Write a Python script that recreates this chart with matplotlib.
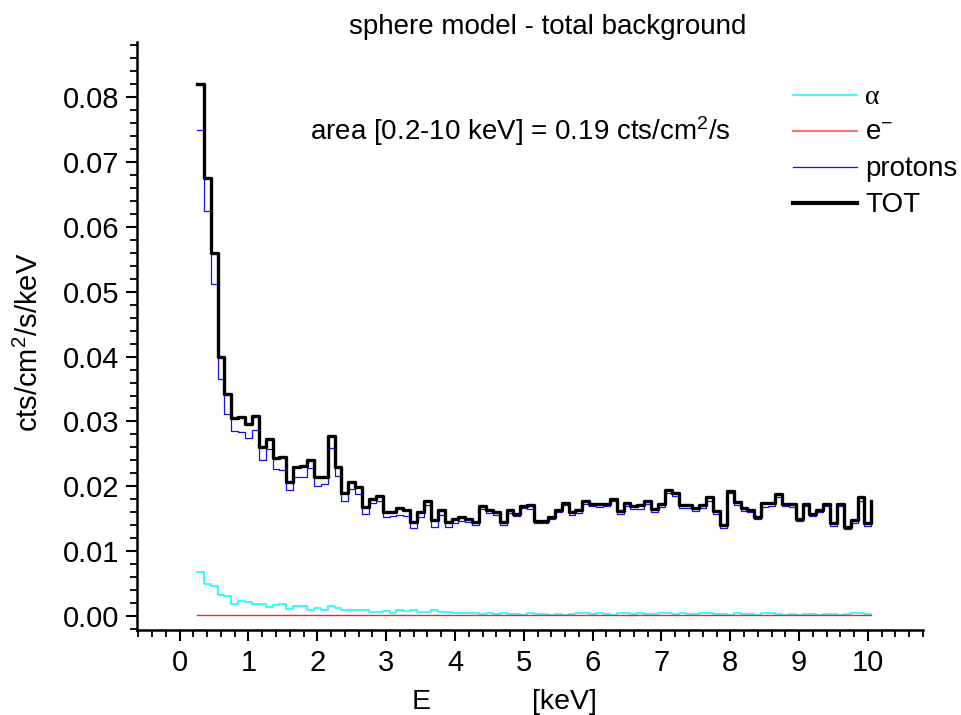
import numpy as np
import matplotlib
matplotlib.use('Agg')
import matplotlib.pyplot as plt
from matplotlib.ticker import MultipleLocator, FormatStrFormatter

# energy bins: 0.1 keV wide starting at 0.25 keV (last value closes the step)
e_start = 0.25
e_width = 0.1

tot = [0.0820, 0.0676, 0.0559, 0.0400, 0.0343, 0.0305, 0.0307, 0.0296, 0.0308, 0.0260,
       0.0273, 0.0244, 0.0245, 0.0206, 0.0230, 0.0232, 0.0240, 0.0214, 0.0214, 0.0278,
       0.0230, 0.0189, 0.0207, 0.0199, 0.0168, 0.0181, 0.0185, 0.0161, 0.0161, 0.0166,
       0.0164, 0.0145, 0.0160, 0.0178, 0.0148, 0.0163, 0.0145, 0.0149, 0.0153, 0.0150,
       0.0145, 0.0169, 0.0164, 0.0160, 0.0145, 0.0163, 0.0158, 0.0169, 0.0171, 0.0147,
       0.0147, 0.0153, 0.0164, 0.0174, 0.0160, 0.0164, 0.0177, 0.0173, 0.0173, 0.0173,
       0.0181, 0.0162, 0.0174, 0.0169, 0.0171, 0.0177, 0.0165, 0.0173, 0.0195, 0.0189,
       0.0171, 0.0171, 0.0166, 0.0171, 0.0183, 0.0162, 0.0140, 0.0193, 0.0176, 0.0166,
       0.0164, 0.0153, 0.0174, 0.0174, 0.0188, 0.0172, 0.0172, 0.0150, 0.0173, 0.0158,
       0.0164, 0.0173, 0.0143, 0.0172, 0.0138, 0.0148, 0.0183, 0.0143, 0.0177]

protons = [0.0750, 0.0625, 0.0512, 0.0365, 0.0311, 0.0285, 0.0283, 0.0274, 0.0287, 0.0240,
           0.0257, 0.0226, 0.0225, 0.0194, 0.0214, 0.0215, 0.0229, 0.0200, 0.0204, 0.0259,
           0.0216, 0.0178, 0.0196, 0.0188, 0.0158, 0.0174, 0.0178, 0.0152, 0.0155, 0.0156,
           0.0155, 0.0135, 0.0153, 0.0171, 0.0138, 0.0156, 0.0138, 0.0143, 0.0147, 0.0145,
           0.0140, 0.0165, 0.0159, 0.0156, 0.0140, 0.0159, 0.0154, 0.0166, 0.0165, 0.0143,
           0.0143, 0.0150, 0.0160, 0.0171, 0.0156, 0.0159, 0.0172, 0.0169, 0.0168, 0.0169,
           0.0178, 0.0157, 0.0169, 0.0165, 0.0165, 0.0173, 0.0161, 0.0168, 0.0189, 0.0185,
           0.0166, 0.0167, 0.0162, 0.0166, 0.0177, 0.0158, 0.0136, 0.0190, 0.0171, 0.0162,
           0.0160, 0.0150, 0.0168, 0.0169, 0.0184, 0.0169, 0.0168, 0.0147, 0.0169, 0.0154,
           0.0161, 0.0169, 0.0139, 0.0169, 0.0134, 0.0143, 0.0178, 0.0139, 0.0173]

alpha = [0.0068, 0.0049, 0.0046, 0.0033, 0.0031, 0.0018, 0.0023, 0.0021, 0.0019, 0.0019,
         0.0014, 0.0017, 0.0018, 0.0011, 0.0015, 0.0015, 0.0010, 0.0013, 0.0010, 0.0016,
         0.0013, 0.0010, 0.0010, 0.0010, 0.0009, 0.0006, 0.0006, 0.0008, 0.0005, 0.0009,
         0.0008, 0.0009, 0.0006, 0.0006, 0.0009, 0.0006, 0.0006, 0.0005, 0.0005, 0.0004,
         0.0004, 0.0003, 0.0004, 0.0003, 0.0004, 0.0003, 0.0003, 0.0002, 0.0005, 0.0003,
         0.0003, 0.0002, 0.0003, 0.0002, 0.0003, 0.0004, 0.0004, 0.0003, 0.0004, 0.0003,
         0.0002, 0.0004, 0.0004, 0.0003, 0.0005, 0.0003, 0.0003, 0.0004, 0.0005, 0.0003,
         0.0004, 0.0003, 0.0003, 0.0004, 0.0005, 0.0003, 0.0003, 0.0002, 0.0004, 0.0003,
         0.0003, 0.0002, 0.0005, 0.0004, 0.0003, 0.0002, 0.0003, 0.0002, 0.0003, 0.0003,
         0.0002, 0.0003, 0.0003, 0.0002, 0.0003, 0.0004, 0.0004, 0.0003, 0.0003]

electrons = [0.0002, 0.0002, 0.0001, 0.0002, 0.0001, 0.0002, 0.0001, 0.0001, 0.0002, 0.0001,
             0.0002, 0.0001, 0.0002, 0.0001, 0.0001, 0.0002, 0.0001, 0.0001, 0.0001, 0.0002,
             0.0001, 0.0001, 0.0001, 0.0001, 0.0001, 0.0001, 0.0001, 0.0001, 0.0001, 0.0001,
             0.0001, 0.0001, 0.0001, 0.0001, 0.0001, 0.0001, 0.0001, 0.0001, 0.0001, 0.0001,
             0.0001, 0.0001, 0.0001, 0.0001, 0.0001, 0.0001, 0.0001, 0.0001, 0.0001, 0.0001,
             0.0001, 0.0001, 0.0001, 0.0001, 0.0001, 0.0001, 0.0001, 0.0001, 0.0001, 0.0001,
             0.0001, 0.0001, 0.0001, 0.0001, 0.0001, 0.0001, 0.0001, 0.0001, 0.0001, 0.0001,
             0.0001, 0.0001, 0.0001, 0.0001, 0.0001, 0.0001, 0.0001, 0.0001, 0.0001, 0.0001,
             0.0001, 0.0001, 0.0001, 0.0001, 0.0001, 0.0001, 0.0001, 0.0001, 0.0001, 0.0001,
             0.0001, 0.0001, 0.0001, 0.0001, 0.0001, 0.0001, 0.0001, 0.0001, 0.0001]

energy = e_start + e_width * np.arange(len(tot))

plt.rcParams['font.family'] = ['Liberation Sans', 'DejaVu Sans']
plt.rcParams['mathtext.default'] = 'regular'

W, H = 961, 715
fig = plt.figure(figsize=(W / 100, H / 100), dpi=100)
ax = fig.add_axes([137 / W, 1 - 630 / H, (923 - 137) / W, (630 - 42) / H])

ax.step(energy, alpha, where='post', color='#00ffff', lw=1.1, label='α')
ax.step(energy, electrons, where='post', color='#ff2020', lw=1.0, label='e$^{-}$')
ax.step(energy, protons, where='post', color='#1010ff', lw=0.9, label='protons')
ax.step(energy, tot, where='post', color='black', lw=2.4, label='TOT')

ax.set_xlim(-0.62, 10.8)
ax.set_ylim(-0.00215, 0.0885)

for s in ['top', 'right']:
    ax.spines[s].set_visible(False)
for s in ['left', 'bottom']:
    ax.spines[s].set_linewidth(1.8)

ax.xaxis.set_major_locator(MultipleLocator(1))
ax.xaxis.set_minor_locator(MultipleLocator(0.2))
ax.yaxis.set_major_locator(MultipleLocator(0.01))
ax.yaxis.set_minor_locator(MultipleLocator(0.002))
ax.yaxis.set_major_formatter(FormatStrFormatter('%.2f'))
ax.tick_params(which='major', direction='out', length=8, width=1.5, labelsize=21)
ax.tick_params(which='minor', direction='out', length=5, width=1.3)
ax.tick_params(axis='x', which='major', pad=6)
ax.tick_params(axis='y', which='major', pad=5)

ax.set_ylabel('cts/cm$^2$/s/keV', fontsize=21)
ax.yaxis.set_label_coords(-0.118, 0.49)
fig.text(421 / W, 1 - 702 / H, 'E', fontsize=20.5, ha='center', va='center')
fig.text(564 / W, 1 - 702 / H, '[keV]', fontsize=20.5, ha='center', va='center')

fig.text(548 / W, 1 - 27 / H, 'sphere model - total background', fontsize=20,
         ha='center', va='center')
fig.text(310 / W, 1 - 131 / H, 'area [0.2-10 keV] = 0.19 cts/cm$^2$/s', fontsize=20,
         ha='left', va='center')

leg = ax.legend(loc='upper left', bbox_to_anchor=(793 / W, 1 - 85 / H),
                bbox_transform=fig.transFigure, frameon=False, fontsize=20,
                handlelength=2.3, handletextpad=0.3, labelspacing=0.36,
                borderaxespad=0, borderpad=0)
leg.get_texts()[0].set_family('Liberation Serif')
leg.get_lines()[1].set_color('#ff7070')
leg.get_lines()[1].set_linewidth(1.5)
leg.get_lines()[3].set_linewidth(3.0)

fig.savefig('out.png', dpi=100)
